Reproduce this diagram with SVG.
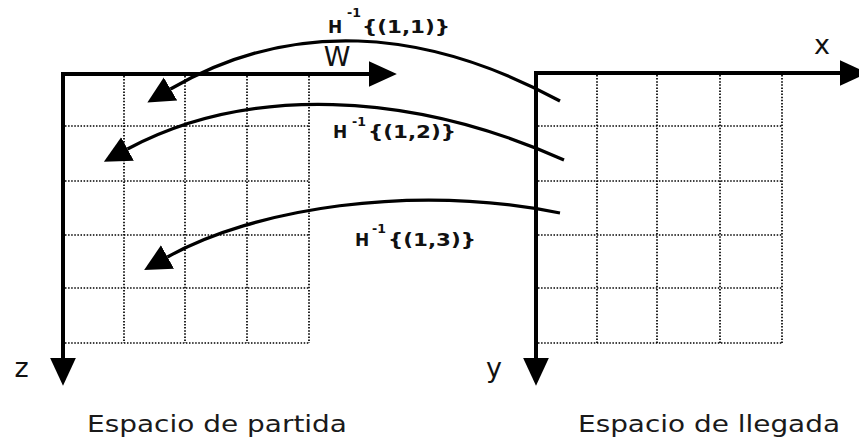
<svg xmlns="http://www.w3.org/2000/svg" width="859" height="441" viewBox="0 0 859 441">
<style>
  .axis { fill: none; stroke: #000; stroke-width: 4; stroke-linejoin: miter; }
  .grid { fill: none; stroke: #000; stroke-width: 1.7; stroke-dasharray: 1.5 1.6; }
  .curve { fill: none; stroke: #000; stroke-width: 3.2; }
  .axlbl { font-family: "DejaVu Sans", Verdana, sans-serif; font-size: 27px; fill: #111; }
  .cap { font-family: "DejaVu Sans", Verdana, sans-serif; font-size: 23px; fill: #1a1a1a; }
  .lbl { font-family: "DejaVu Sans", Verdana, sans-serif; font-weight: bold; font-size: 17px; fill: #111; }
  .sup { font-family: "DejaVu Sans", Verdana, sans-serif; font-weight: bold; font-size: 12.5px; fill: #111; }
</style>
<defs>
  <marker id="axhead" markerUnits="userSpaceOnUse" markerWidth="30" markerHeight="30" viewBox="0 -14 28 28" refX="0" refY="0" orient="auto-start-reverse">
    <path d="M0,-12 L26,0 L0,12 z" fill="#000"/>
  </marker>
  <marker id="arrow" markerUnits="userSpaceOnUse" markerWidth="30" markerHeight="30" viewBox="0 -14 28 28" refX="0" refY="0" orient="auto">
    <path d="M0,-12.5 L25,0 L0,12.5 z" fill="#000"/>
  </marker>
</defs>

<g id="espacio-partida">
  <g id="grid-partida">
    <path class="grid" d="M124,76 V343 M185,76 V343 M247,76 V343 M309,76 V343"/>
    <path class="grid" d="M65,126 H309 M65,181 H309 M65,235 H309 M65,288 H309 M65,343 H309"/>
  </g>
  <path class="axis" d="M63,358 L63,74 L369,74" marker-start="url(#axhead)" marker-end="url(#axhead)"/>
  <text class="axlbl" x="337" y="66" text-anchor="middle" font-size="21px">W</text>
  <text class="axlbl" x="21.5" y="377" text-anchor="middle">z</text>
  <text class="cap" x="87" y="432" textLength="260" lengthAdjust="spacingAndGlyphs">Espacio de partida</text>
</g>

<g id="espacio-llegada">
  <g id="grid-llegada">
    <path class="grid" d="M597,75 V343 M657,75 V343 M720,75 V343 M782,75 V343"/>
    <path class="grid" d="M538,126 H782 M538,181 H782 M538,235 H782 M538,288 H782 M538,343 H782"/>
  </g>
  <path class="axis" d="M536,358 L536,73 L840,73" marker-start="url(#axhead)" marker-end="url(#axhead)"/>
  <text class="axlbl" x="822" y="54" text-anchor="middle">x</text>
  <text class="axlbl" x="494" y="377" text-anchor="middle">y</text>
  <text class="cap" x="578" y="432" textLength="262" lengthAdjust="spacingAndGlyphs">Espacio de llegada</text>
</g>

<g id="connectors">
  <path id="c11" class="curve" d="M560,101 C422,26 289,20 170.5,89" marker-end="url(#arrow)"/>
  <path id="c12" class="curve" d="M564,160 C410,91 247,85 127.5,149" marker-end="url(#arrow)"/>
  <path id="c13" class="curve" d="M560,213 C410,183 253.5,209 167.5,257" marker-end="url(#arrow)"/>
</g>

<g id="label-11">
  <text class="lbl" x="328" y="33">H</text>
  <text class="sup" x="347" y="17">-1</text>
  <text class="lbl" x="362" y="33" textLength="88" lengthAdjust="spacingAndGlyphs">{(1,1)}</text>
</g>
<g id="label-12">
  <text class="lbl" x="333" y="138">H</text>
  <text class="sup" x="352" y="126">-1</text>
  <text class="lbl" x="368" y="138" textLength="88" lengthAdjust="spacingAndGlyphs">{(1,2)}</text>
</g>
<g id="label-13">
  <text class="lbl" x="355" y="246">H</text>
  <text class="sup" x="372" y="233">-1</text>
  <text class="lbl" x="388" y="246" textLength="88" lengthAdjust="spacingAndGlyphs">{(1,3)}</text>
</g>
</svg>
